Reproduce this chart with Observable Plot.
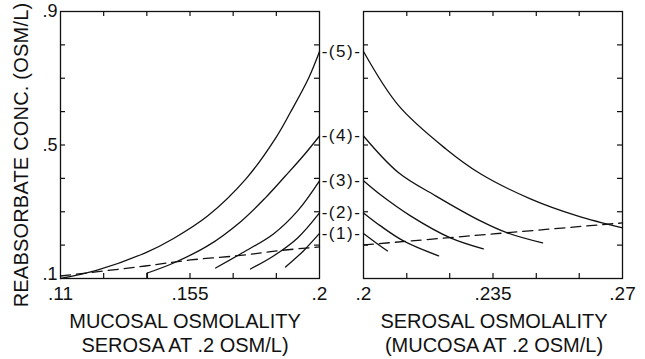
<!DOCTYPE html>
<html><head><meta charset="utf-8">
<script src="https://cdn.jsdelivr.net/npm/d3@7"></script>
<script src="https://cdn.jsdelivr.net/npm/@observablehq/plot@0.6"></script>
<style>
body{margin:0;background:#fff;}
#wrap{position:relative;width:645px;height:359px;overflow:hidden;font-family:"Liberation Sans",Arial,sans-serif;color:#111;}
.p{position:absolute;top:0;}
.t{position:absolute;font-size:20px;white-space:nowrap;text-align:center;line-height:24px;color:#111;}
</style></head>
<body><div id="wrap"></div>
<script>
// ---- data ----
const curveLabels = ["(1)", "(2)", "(3)", "(4)", "(5)"];
const labelY = [0.235, 0.2966, 0.3927, 0.527, 0.78];

const yTickLabels = [0.5, 0.9];
const yBottomLabel = [0.1];
const yTicks = [0.2, 0.3, 0.4, 0.5, 0.6, 0.7, 0.8];
const mucosalTickLabels = [0.11, 0.155, 0.2];
const mucosalTicks = [0.125, 0.14, 0.155, 0.17, 0.185];
const serosalTickLabels = [0.2, 0.235, 0.27];
const serosalTicks = [0.2117, 0.2233, 0.235, 0.2467, 0.2583];

// left panel: vs mucosal osmolality
const mucosal1X = [0.1882, 0.1944, 0.2];
const mucosal1Y = [0.1345, 0.1826, 0.235];
const mucosal2X = [0.176, 0.184, 0.1924, 0.2];
const mucosal2Y = [0.1285, 0.1675, 0.2216, 0.2966];
const mucosal3X = [0.1639, 0.1725, 0.184, 0.1924, 0.2];
const mucosal3Y = [0.1315, 0.1735, 0.2336, 0.3026, 0.3927];
const mucosal4X = [0.1402, 0.1493, 0.1611, 0.1725, 0.1812, 0.1882, 0.1944, 0.2];
const mucosal4Y = [0.1165, 0.1465, 0.1976, 0.2696, 0.3417, 0.4077, 0.4677, 0.527];
const mucosal5X = [0.11, 0.1222, 0.1395, 0.1493, 0.1611, 0.1746, 0.1847, 0.1899, 0.1962, 0.2];
const mucosal5Y = [0.1, 0.1235, 0.177, 0.22, 0.287, 0.4, 0.52, 0.598, 0.7, 0.78];
const mucosal4Stub = {x: 0.1402, y1: 0.1, y2: 0.1165};
const mucosalDashX = [0.11, 0.1395, 0.1552, 0.1725, 0.1865, 0.2];
const mucosalDashY = [0.1075, 0.1375, 0.1555, 0.169, 0.184, 0.1946];

// right panel: vs serosal osmolality
const serosal1X = [0.2, 0.2038, 0.2065];
const serosal1Y = [0.235, 0.2036, 0.1826];
const serosal2X = [0.2, 0.2046, 0.2108, 0.2203];
const serosal2Y = [0.2966, 0.2576, 0.2126, 0.1676];
const serosal3X = [0.2, 0.2046, 0.2127, 0.2235, 0.2324];
const serosal3Y = [0.3927, 0.3507, 0.2876, 0.2216, 0.1886];
const serosal4X = [0.2, 0.2095, 0.2195, 0.2316, 0.2389, 0.2484];
const serosal4Y = [0.527, 0.4167, 0.3477, 0.2726, 0.2366, 0.2066];
const serosal5X = [0.2, 0.2095, 0.2222, 0.2316, 0.2451, 0.2578, 0.27];
const serosal5Y = [0.78, 0.6178, 0.4888, 0.4137, 0.3387, 0.2876, 0.2516];
const serosalDashX = [0.2, 0.2351, 0.27];
const serosalDashY = [0.2006, 0.2336, 0.2666];

// ---- build tables ----
function rows(k, xs, ys) { return xs.map((x, i) => ({k, x, y: ys[i]})); }
const leftCurves = [
  ...rows(1, mucosal1X, mucosal1Y), ...rows(2, mucosal2X, mucosal2Y),
  ...rows(3, mucosal3X, mucosal3Y), ...rows(4, mucosal4X, mucosal4Y),
  ...rows(5, mucosal5X, mucosal5Y)];
const rightCurves = [
  ...rows(1, serosal1X, serosal1Y), ...rows(2, serosal2X, serosal2Y),
  ...rows(3, serosal3X, serosal3Y), ...rows(4, serosal4X, serosal4Y),
  ...rows(5, serosal5X, serosal5Y)];
const leftDash = rows("d", mucosalDashX, mucosalDashY);
const rightDash = rows("d", serosalDashX, serosalDashY);
const labelRows = curveLabels.map((t, i) => ({t: "-" + t + "-", v: labelY[i]}));

const fmt = d => d3.format(".3~f")(d).replace(/^0/, "");
const FONT = '"Liberation Sans", Arial, sans-serif';
const INK = "#111";
const H = 359, MT = 11, MB = 81, FW = 259, FH = H - MT - MB, TL = 5;

function frameTicks(xt) {
  return [
    Plot.ruleX(xt, {x: d => d, insetTop: FH - TL, strokeWidth: 1.2}),
    Plot.ruleX(xt, {x: d => d, insetBottom: FH - TL, strokeWidth: 1.2}),
    Plot.ruleY(yTicks, {y: d => d, insetRight: FW - TL, strokeWidth: 1.2}),
    Plot.ruleY(yTicks, {y: d => d, insetLeft: FW - TL, strokeWidth: 1.2})
  ];
}

const left = Plot.plot({
  width: 330, height: H, marginLeft: 60, marginRight: 11, marginTop: MT, marginBottom: MB,
  style: {fontFamily: FONT, fontSize: "19px", color: INK, background: "transparent", overflow: "visible"},
  x: {domain: [0.11, 0.2]},
  y: {domain: [0.1, 0.9]},
  marks: [
    Plot.frame({strokeWidth: 1.3}),
    ...frameTicks(mucosalTicks),
    Plot.axisX(mucosalTickLabels, {tickSize: 0, tickPadding: 8, tickFormat: fmt, label: null}),
    Plot.axisY(yTickLabels, {tickSize: 0, tickPadding: 3, tickFormat: fmt, label: null, fontSize: 18}),
    Plot.axisY(yBottomLabel, {tickSize: 0, tickPadding: 3, tickFormat: fmt, label: null, dy: -4, fontSize: 18}),
    Plot.line(leftCurves, {x: "x", y: "y", z: "k", curve: "catmull-rom", strokeWidth: 1.3}),
    Plot.ruleX([mucosal4Stub], {x: "x", y1: "y1", y2: "y2", strokeWidth: 1.3}),
    Plot.line(leftDash, {x: "x", y: "y", curve: "catmull-rom", strokeWidth: 1.3, strokeDasharray: "10,6"})
  ]
});

const right = Plot.plot({
  width: 325, height: H, marginLeft: 43, marginRight: 23, marginTop: MT, marginBottom: MB,
  style: {fontFamily: FONT, fontSize: "19px", color: INK, background: "transparent", overflow: "visible"},
  x: {domain: [0.2, 0.27]},
  y: {domain: [0.1, 0.9], axis: null},
  marks: [
    Plot.frame({strokeWidth: 1.3}),
    ...frameTicks(serosalTicks),
    Plot.axisX(serosalTickLabels, {tickSize: 0, tickPadding: 8, tickFormat: fmt, label: null}),
    Plot.line(rightCurves, {x: "x", y: "y", z: "k", curve: "catmull-rom", strokeWidth: 1.3}),
    Plot.line(rightDash, {x: "x", y: "y", curve: "catmull-rom", strokeWidth: 1.3, strokeDasharray: "10,6"}),
    Plot.text(labelRows, {y: "v", text: "t", frameAnchor: "left", dx: -22, fontSize: 17, textAnchor: "middle"})
  ]
});

const wrap = document.getElementById("wrap");
left.classList.add("p"); left.style.left = "0px";
right.classList.add("p"); right.style.left = "320px";
wrap.appendChild(left);
wrap.appendChild(right);
d3.select(right).selectAll("g[aria-label='text'] text").attr("letter-spacing", "1.5px");

function addText(html, css) {
  const d = document.createElement("div");
  d.className = "t"; d.innerHTML = html; Object.assign(d.style, css);
  wrap.appendChild(d);
}
addText("MUCOSAL OSMOLALITY<br>SEROSA AT .2 OSM/L)", {left: "35px", width: "300px", top: "309px"});
addText("SEROSAL OSMOLALITY<br>(MUCOSA AT .2 OSM/L)", {left: "344px", width: "300px", top: "309px"});
addText("REABSORBATE CONC. (OSM/L)", {left: "-139px", width: "320px", top: "143px", transform: "rotate(-90deg)", letterSpacing: "0.2px"});
</script>
</body></html>
